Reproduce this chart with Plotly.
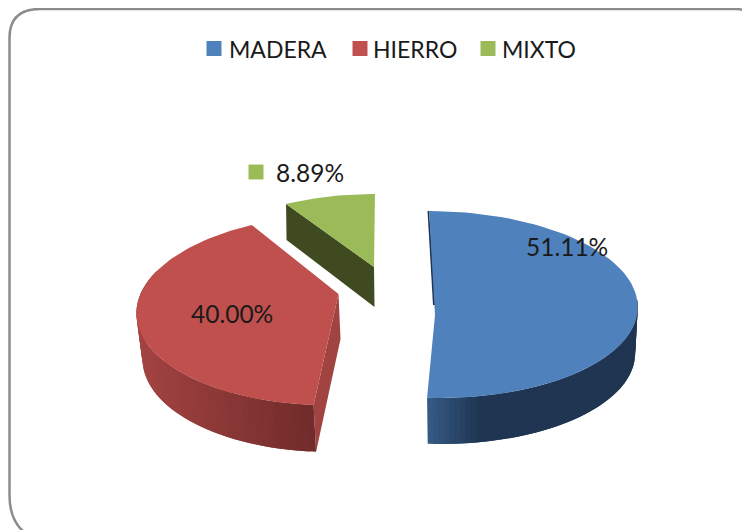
import math
import plotly.graph_objects as go

categories = ["MADERA", "HIERRO", "MIXTO"]
values = [51.11, 40.00, 8.89]
top_colors = ["#4f81bd", "#c0504d", "#9bbb59"]

# projection of each exploded wedge: apex, perspective and depth
GEOM = {
    "MADERA": dict(ax=435, ay=315, a=202, b=-5.3, c=92.3, k=-0.112, d=46, e=0.0, s=0.985, dx=0.5, band=(80, None),
                   c0=(0x1f, 0x35, 0x51), c1=(0x35, 0x5a, 0x85), x0=480, x1=428),
    "HIERRO": dict(ax=338.5, ay=294, a=198, b=7, c=92.9, k=0.166, d=45, e=-0.04, s=0.98, dx=2, band=(None, 285),
                   c0=(0x70, 0x2b, 0x2a), c1=(0xa2, 0x43, 0x41), x0=315, x1=140),
    "MIXTO": dict(ax=374, ay=267, a=186, b=1.1, c=82.5, k=0.13, d=40, e=-0.12, s=1.0, dx=0.5, band=None,
                  c0=(0x3f, 0x4a, 0x20), c1=(0x3f, 0x4a, 0x20), x0=0, x1=1),
}
WALL_RED = "#a04341"
WALL_GREEN = "#3f4a20"
WALL_BLUE = "#1f3551"

fig = go.Figure()


def top_pt(g, th):
    t = math.radians(th)
    u, v = math.sin(t), math.cos(t)
    w = 1 + g["k"] * v
    return g["ax"] + (g["a"] * u + g["b"] * v) / w, g["ay"] - g["c"] * v / w


def low_pt(g, th):
    x, y = top_pt(g, th)
    v = math.cos(math.radians(th))
    return g["ax"] + (x - g["ax"]) * g["s"] + g["dx"], y + g["d"] * (1 + g["e"] * v)


def low_apex(g):
    return g["ax"] + g["dx"], g["ay"] + g["d"]


def poly(xs, ys, color, width=0):
    fig.add_trace(go.Scatter(
        x=xs + xs[:1], y=ys + ys[:1], mode="lines", fill="toself", fillcolor=color,
        line=dict(color=color, width=width), showlegend=False, hoverinfo="skip"))


# wedge angular ranges derived from the values
total = sum(values)
ranges = {}
start = 0.0
for name, val in zip(categories, values):
    ranges[name] = (start, start + val / total * 360)
    start += val / total * 360

# MIXTO
g = GEOM["MIXTO"]
t0, t1 = ranges["MIXTO"]
tip = top_pt(g, t0)
ltip = low_pt(g, t0)
la = low_apex(g)
poly([g["ax"], tip[0], ltip[0], la[0]], [g["ay"], tip[1], ltip[1], la[1]], WALL_GREEN)
ths = [t0 + (t1 - t0) * i / 20 for i in range(21)]
pts = [top_pt(g, t) for t in ths]
poly([g["ax"]] + [p[0] for p in pts], [g["ay"]] + [p[1] for p in pts], top_colors[2])

# HIERRO and MADERA
for name, col in (("HIERRO", top_colors[1]), ("MADERA", top_colors[0])):
    g = GEOM[name]
    t0, t1 = ranges[name]
    lo = g["band"][0] if g["band"][0] is not None else t0
    hi = g["band"][1] if g["band"][1] is not None else t1
    if name == "HIERRO":
        corner = top_pt(g, t0)
        lcorner = low_pt(g, t0)
        la = low_apex(g)
        poly([g["ax"], corner[0], lcorner[0], la[0]], [g["ay"], corner[1], lcorner[1], la[1]], WALL_RED)
    else:
        rim = top_pt(g, t0)
        poly([rim[0], g["ax"] + 1, g["ax"] - 2, rim[0] - 1.5], [rim[1], g["ay"] - 10, g["ay"] - 10, rim[1]], WALL_BLUE)
    n = 60
    order = range(n) if name == "HIERRO" else range(n - 1, -1, -1)
    for i in order:
        a0 = lo + (hi - lo) * max(i - 1, 0) / n if name != "HIERRO" else lo + (hi - lo) * i / n
        a1 = lo + (hi - lo) * (i + 1) / n if name != "HIERRO" else lo + (hi - lo) * min(i + 2, n) / n
        mid = lo + (hi - lo) * (i + 0.5) / n
        f = min(1, max(0, (top_pt(g, mid)[0] - g["x0"]) / (g["x1"] - g["x0"])))
        rgb = [round(g["c0"][j] + (g["c1"][j] - g["c0"][j]) * f) for j in range(3)]
        angs = [a0 + (a1 - a0) * m / 3 for m in range(4)]
        tops = [top_pt(g, t) for t in angs]
        lows = [low_pt(g, t) for t in reversed(angs)]
        poly([p[0] for p in tops + lows], [p[1] for p in tops + lows], "rgb(%d,%d,%d)" % tuple(rgb))
    ths = [t0 + (t1 - t0) * i / 80 for i in range(81)]
    pts = [top_pt(g, t) for t in ths]
    poly([g["ax"]] + [p[0] for p in pts], [g["ay"]] + [p[1] for p in pts], col)

# legend row: key and caption for each category
legend_key_x = {"MADERA": 214, "HIERRO": 360, "MIXTO": 488}
legend_text_x = {"MADERA": 226.5, "HIERRO": 370.5, "MIXTO": 499.5}
LEGEND_Y = 48.5
for name, col in zip(categories, top_colors):
    fig.add_trace(go.Scatter(x=[legend_key_x[name]], y=[LEGEND_Y], mode="markers", name=name, showlegend=False,
                             hoverinfo="name", marker=dict(symbol="square", size=15, color=col)))
    fig.add_annotation(x=legend_text_x[name], y=LEGEND_Y, text=name, showarrow=False, xanchor="left",
                       font=dict(family="Lato", size=23, color="#1a1a1a"))

# data labels with their keys
label_pos = {"MADERA": (567, 246), "HIERRO": (232, 313), "MIXTO": (310, 172)}
key_pos = {"MADERA": (507, 245), "HIERRO": (171, 313), "MIXTO": (256, 172)}
for name, val, col in zip(categories, values, top_colors):
    kx, ky = key_pos[name]
    fig.add_trace(go.Scatter(x=[kx], y=[ky], mode="markers", showlegend=False, hoverinfo="skip",
                             marker=dict(symbol="square", size=15, color=col)))
    lx, ly = label_pos[name]
    fig.add_annotation(x=lx, y=ly, text=f"{val:.2f}%", showarrow=False,
                       font=dict(family="Lato", size=24.5, color="#1a1a1a"))

# the page sits 8px inside the window, so the plot covers window pixels 8..750 / 8..530
fig.update_layout(
    width=742, height=522, margin=dict(l=0, r=0, t=0, b=0),
    paper_bgcolor="white", plot_bgcolor="white", showlegend=False,
    xaxis=dict(range=[8, 750], visible=False, fixedrange=True),
    yaxis=dict(range=[530, 8], visible=False, fixedrange=True),
    shapes=[dict(type="path", xref="x", yref="y",
                 path="M 24 532 Q 9.5 520 9.5 495 L 9.5 38 Q 9.5 9 40 9 L 737 9 Q 752 10 765 22",
                 line=dict(color="#8c8c8c", width=2.5))],
)
fig.write_html("out.html")
